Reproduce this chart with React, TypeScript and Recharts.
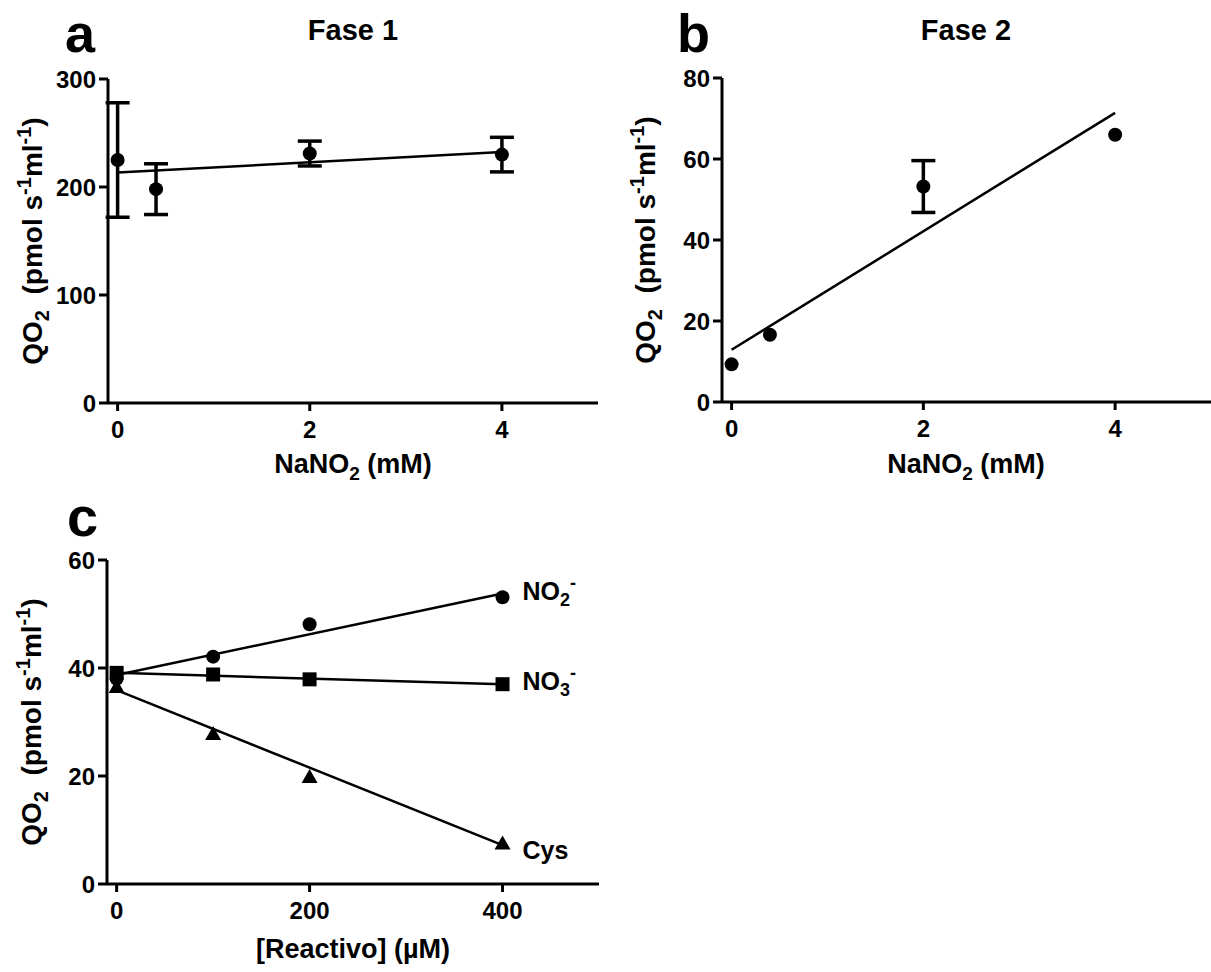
import { ComposedChart, Line, Scatter, XAxis, YAxis, ErrorBar } from "recharts";

const FONT = '"Liberation Sans", Arial, Helvetica, sans-serif';

// NaNO2 dose (mM) vs QO2, fase 1 and fase 2 (mean, SEM)
const nitriteMM = [0, 0.4, 2, 4];
const fase1Mean = [225, 198, 231, 230];
const fase1Sem = [53, 23.5, 11.5, 16];
const fase2Mean = [9.3, 16.6, 53.2, 66];
const fase2Sem = [0, 0, 6.4, 0];

// linear fits: value at first and last dose
const fitDoseMM = [0, 4];
const fase1Fit = [213.4, 232.3];
const fase2Fit = [12.9, 71.4];

// [Reactivo] (µM) vs QO2
const reactivoUM = [0, 100, 200, 400];
const no2Values = [38, 42.1, 48.1, 53.1];
const no3Values = [39.1, 38.8, 37.9, 37.0];
const cysValues = [36.5, 27.8, 19.8, 7.5];
const fitReactivoUM = [0, 400];
const no2Fit = [38.7, 53.8];
const no3Fit = [39.1, 37.0];
const cysFit = [35.9, 7.2];

const doseTicks = [0, 2, 4];
const fase1Ticks = [0, 100, 200, 300];
const fase2Ticks = [0, 20, 40, 60, 80];
const reactivoTicks = [0, 200, 400];
const qo2Ticks = [0, 20, 40, 60];

const toPoints = (xs: number[], ys: number[], err?: number[]) =>
  xs.map((x, i) => ({ x, y: ys[i], err: err ? err[i] : 0 }));

const tickStyle = { fill: "#000", fontSize: 24, fontWeight: 700, fontFamily: FONT };

const XTick = (p: any) => (
  <text x={p.x} y={p.y} dy="0.72em" textAnchor="middle" style={tickStyle}>
    {p.payload.value}
  </text>
);
const YTick = (p: any) => (
  <text x={p.x} y={p.y} dy="0.36em" textAnchor="end" style={tickStyle}>
    {p.payload.value}
  </text>
);

const axisStyle = {
  axisLine: { stroke: "#000", strokeWidth: 3 },
  tickLine: { stroke: "#000", strokeWidth: 3 },
  interval: 0 as const,
};

const Dot = (p: any) => <circle cx={p.cx} cy={p.cy} r={7} fill="#000" />;
const Square = (p: any) => <rect x={p.cx - 7} y={p.cy - 7} width={14} height={14} fill="#000" />;
const Tri = (p: any) => (
  <path d={`M${p.cx},${p.cy - 8}L${p.cx + 8},${p.cy + 6}L${p.cx - 8},${p.cy + 6}Z`} fill="#000" />
);

type DoseProps = {
  left: number;
  width: number;
  margin: { top: number; right: number; bottom: number; left: number };
  mean: number[];
  sem: number[];
  fit: number[];
  yMax: number;
  yTicks: number[];
};

function DosePanel({ left, width, margin, mean, sem, fit, yMax, yTicks }: DoseProps) {
  return (
    <div style={{ position: "absolute", left, top: 0 }}>
      <ComposedChart width={width} height={480} margin={margin}>
        <XAxis
          type="number"
          dataKey="x"
          domain={[-0.1, 5]}
          ticks={doseTicks}
          allowDataOverflow
          tickSize={8}
          tickMargin={10}
          height={30}
          tick={XTick}
          {...axisStyle}
        />
        <YAxis
          type="number"
          dataKey="y"
          domain={[0, yMax]}
          ticks={yTicks}
          allowDataOverflow
          tickSize={9}
          tickMargin={3}
          width={60}
          tick={YTick}
          {...axisStyle}
        />
        <Line
          data={toPoints(fitDoseMM, fit)}
          dataKey="y"
          type="linear"
          stroke="#000"
          strokeWidth={2.5}
          dot={false}
          isAnimationActive={false}
        />
        <Scatter data={toPoints(nitriteMM, mean, sem)} fill="#000" shape={Dot} isAnimationActive={false}>
          <ErrorBar dataKey="err" direction="y" width={12} strokeWidth={3.5} stroke="#000" />
        </Scatter>
      </ComposedChart>
    </div>
  );
}

const reactivoSeries = [
  { name: "NO", sub: "2", sup: "-", values: no2Values, fit: no2Fit, shape: Dot, dy: 3 },
  { name: "NO", sub: "3", sup: "-", values: no3Values, fit: no3Fit, shape: Square, dy: 6 },
  { name: "Cys", sub: "", sup: "", values: cysValues, fit: cysFit, shape: Tri, dy: 15 },
];

function ReactivoPanel() {
  const lastX = reactivoUM[reactivoUM.length - 1];
  return (
    <div style={{ position: "absolute", left: 0, top: 480 }}>
      <ComposedChart width={600} height={492} margin={{ top: 80, right: 1, bottom: 58, left: 47 }}>
        <XAxis
          type="number"
          dataKey="x"
          domain={[-10, 500]}
          ticks={reactivoTicks}
          allowDataOverflow
          tickSize={8}
          tickMargin={10}
          height={30}
          tick={XTick}
          {...axisStyle}
        />
        <YAxis
          type="number"
          dataKey="y"
          domain={[0, 60]}
          ticks={qo2Ticks}
          allowDataOverflow
          tickSize={9}
          tickMargin={3}
          width={60}
          tick={YTick}
          {...axisStyle}
        />
        {reactivoSeries.map((s) => (
          <Line
            key={"fit" + s.name + s.sub}
            data={toPoints(fitReactivoUM, s.fit)}
            dataKey="y"
            type="linear"
            stroke="#000"
            strokeWidth={2.5}
            dot={false}
            isAnimationActive={false}
          />
        ))}
        {reactivoSeries.map((s) => (
          <Scatter
            key={"pts" + s.name + s.sub}
            data={toPoints(reactivoUM, s.values)}
            fill="#000"
            isAnimationActive={false}
            shape={(p: any) => (
              <g>
                {s.shape(p)}
                {p.payload && p.payload.x === lastX && (
                  <text
                    x={p.cx + 20}
                    y={p.cy + s.dy}
                    fontFamily={FONT}
                    fontWeight={700}
                    fontSize={25}
                    fill="#000"
                  >
                    {s.name}
                    {s.sub && (
                      <tspan dy={6} fontSize={18}>
                        {s.sub}
                      </tspan>
                    )}
                    {s.sup && (
                      <tspan dy={-17} fontSize={18}>
                        {s.sup}
                      </tspan>
                    )}
                  </text>
                )}
              </g>
            )}
          />
        ))}
      </ComposedChart>
    </div>
  );
}

function YTitle({ x, y }: { x: number; y: number }) {
  return (
    <text
      x={x}
      y={y}
      transform={`rotate(-90, ${x}, ${y})`}
      textAnchor="middle"
      fontSize={28}
      fontWeight={700}
      fontFamily={FONT}
      fill="#000"
      style={{ whiteSpace: "pre" }}
    >
      QO
      <tspan dy={7} fontSize={20}>
        2
      </tspan>
      <tspan dy={-7}>{"  (pmol s"}</tspan>
      <tspan dy={-11} fontSize={20}>
        -1
      </tspan>
      <tspan dy={11}>ml</tspan>
      <tspan dy={-11} fontSize={20}>
        -1
      </tspan>
      <tspan dy={11}>)</tspan>
    </text>
  );
}

function NitriteTitle({ x, y }: { x: number; y: number }) {
  return (
    <text x={x} y={y} textAnchor="middle" fontSize={27} fontWeight={700} fontFamily={FONT} fill="#000" style={{ whiteSpace: "pre" }}>
      NaNO
      <tspan dy={7} fontSize={19}>
        2
      </tspan>
      <tspan dy={-7}>{" (mM)"}</tspan>
    </text>
  );
}

export default function App() {
  const heavy = { fontFamily: FONT, fontWeight: 700, fill: "#000" };
  return (
    <div style={{ position: "absolute", left: 0, top: 0, width: 1211, height: 972, background: "#fff" }}>
      <DosePanel
        left={0}
        width={600}
        margin={{ top: 79, right: 2, bottom: 47, left: 48 }}
        mean={fase1Mean}
        sem={fase1Sem}
        fit={fase1Fit}
        yMax={300}
        yTicks={fase1Ticks}
      />
      <DosePanel
        left={600}
        width={611}
        margin={{ top: 78, right: 0, bottom: 48, left: 62 }}
        mean={fase2Mean}
        sem={fase2Sem}
        fit={fase2Fit}
        yMax={80}
        yTicks={fase2Ticks}
      />
      <ReactivoPanel />
      <svg width={1211} height={972} style={{ position: "absolute", left: 0, top: 0, pointerEvents: "none" }}>
        <text x={65} y={52} fontSize={54} {...heavy}>a</text>
        <text x={677} y={52} fontSize={54} {...heavy}>b</text>
        <text x={67} y={536} fontSize={56} {...heavy}>c</text>
        <text x={353} y={40} fontSize={29} textAnchor="middle" {...heavy}>Fase 1</text>
        <text x={966} y={40} fontSize={29} textAnchor="middle" {...heavy}>Fase 2</text>
        <YTitle x={42} y={241} />
        <YTitle x={655} y={240} />
        <YTitle x={41} y={722} />
        <NitriteTitle x={353} y={473} />
        <NitriteTitle x={966} y={473} />
        <text x={353} y={958} fontSize={27} textAnchor="middle" {...heavy}>
          [Reactivo] (µM)
        </text>
      </svg>
    </div>
  );
}
